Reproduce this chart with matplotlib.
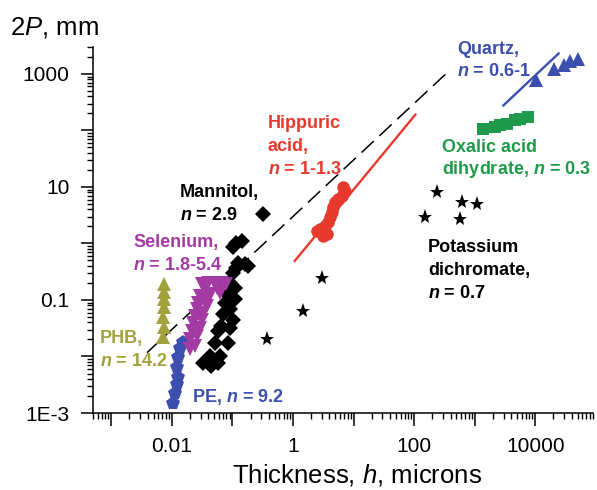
import matplotlib
matplotlib.use("Agg")
import matplotlib.pyplot as plt
import numpy as np
from matplotlib.ticker import FixedLocator, FixedFormatter, LogLocator, NullFormatter

plt.rcParams["font.family"] = ["Liberation Sans", "DejaVu Sans"]
plt.rcParams["mathtext.fontset"] = "custom"
plt.rcParams["mathtext.it"] = "Liberation Sans:italic:bold"
plt.rcParams["mathtext.rm"] = "Liberation Sans:bold"
plt.rcParams["mathtext.sf"] = "Liberation Sans:italic"

# data (thickness h in microns, 2P in mm)
mannitol_h = [0.323, 0.117, 0.142, 0.103, 0.161, 0.182, 0.125, 0.117, 0.103, 0.091, 0.080, 0.110,
              0.075, 0.110, 0.091, 0.070, 0.103, 0.066, 0.091, 0.058, 0.051, 0.085, 0.042, 0.033,
              0.045, 0.058, 0.062]
mannitol_p = [3.3, 1.04, 1.11, 0.85, 0.43, 0.40, 0.46, 0.375, 0.305, 0.203, 0.135, 0.165,
              0.0895, 0.103, 0.068, 0.0555, 0.045, 0.0344, 0.0322, 0.028, 0.0175, 0.0175, 0.0101,
              0.0077, 0.0067, 0.0077, 0.0101]

selenium_h = [0.031, 0.040, 0.051, 0.066, 0.080, 0.035, 0.055, 0.029, 0.042, 0.062, 0.027, 0.040,
              0.0256, 0.0375, 0.024, 0.033, 0.0225, 0.031, 0.0212, 0.029, 0.0199, 0.0256, 0.0199, 0.024]
selenium_p = [0.189, 0.203, 0.203, 0.203, 0.189, 0.154, 0.165, 0.117, 0.126, 0.135, 0.0895, 0.103,
              0.068, 0.078, 0.0518, 0.0594, 0.0395, 0.045, 0.028, 0.032, 0.020, 0.0229, 0.0133, 0.0152]

pe_h = [0.0152, 0.0136, 0.0126, 0.0121, 0.0126, 0.0121, 0.0112, 0.0104]
pe_p = [0.0177, 0.0144, 0.0096, 0.0066, 0.0044, 0.0032, 0.0023, 0.0015]

phb_h = [0.0074, 0.0074, 0.0074, 0.0074, 0.0072, 0.0074, 0.0072]
phb_p = [0.189, 0.136, 0.103, 0.074, 0.049, 0.0326, 0.0217]

hippuric_h = [6.78, 7.24, 6.38, 5.61, 4.94, 4.63, 4.36, 4.09, 3.83, 3.38, 2.79, 2.46, 3.61, 3.17]
hippuric_p = [9.9, 8.6, 7.0, 6.1, 5.35, 4.36, 3.55, 2.9, 2.36, 2.06, 1.79, 1.67, 1.46, 1.36]
hippuric_fit_h = [1.07, 105]
hippuric_fit_p = [0.49, 190]

dichromate_h = [237, 614, 1087, 152, 576, 2.98, 1.48, 0.367]
dichromate_p = [8.05, 5.35, 4.99, 2.9, 2.7, 0.249, 0.0635, 0.020]

oxalic_h = [1397, 2183, 2640, 3400, 4670, 5650, 7750]
oxalic_p = [107, 115, 123, 131, 151, 161, 173]

quartz_h = [10400, 20600, 29400, 37900, 50400]
quartz_p = [773, 1247, 1470, 1695, 1876]
quartz_fit_h = [2990, 24300]
quartz_fit_p = [278, 2300]

guide_h = [0.0039, 400]
guide_p = [0.0117, 1200]

xtick_vals = [0.001, 0.01, 0.1, 1, 10, 100, 1000, 10000]
xtick_labels = ["", "0.01", "", "1", "", "100", "", "10000"]
ytick_vals = [0.001, 0.01, 0.1, 1, 10, 100, 1000]
ytick_labels = ["1E-3", "", "0.1", "", "10", "", "1000"]

RED = "#e63a2e"
MAGENTA = "#a43aa4"
BLUE = "#3c4fae"
GREEN = "#1f9a4a"
OLIVE = "#a2a23c"

W, H = 597, 490
fig = plt.figure(figsize=(W / 100, H / 100), dpi=100)
ax = fig.add_axes([93 / W, 1 - 413 / H, 500 / W, 366 / H])

ax.set_xscale("log")
ax.set_yscale("log")

ax.plot(guide_h, guide_p, color="black", lw=1.1, dashes=(11, 5), zorder=2)
ax.plot(hippuric_fit_h, hippuric_fit_p, color=RED, lw=1.7, zorder=2)
ax.plot(quartz_fit_h, quartz_fit_p, color=BLUE, lw=1.7, zorder=2)

ax.plot(mannitol_h, mannitol_p, "D", color="black", ms=8.5, mew=0, zorder=3)
ax.plot(selenium_h, selenium_p, "v", color=MAGENTA, ms=10, mew=0, zorder=4)
ax.plot(pe_h, pe_p, "p", color=BLUE, ms=10, mew=0, zorder=3)
ax.plot(phb_h, phb_p, "^", color=OLIVE, ms=10, mew=0, zorder=3)
ax.plot(hippuric_h, hippuric_p, "o", color=RED, ms=9, mew=0, zorder=3)
ax.plot(dichromate_h, dichromate_p, "*", color="black", ms=11, mew=0, zorder=3)
ax.plot(oxalic_h, oxalic_p, "s", color=GREEN, ms=8.5, mew=0, zorder=3)
ax.plot(quartz_h, quartz_p, "^", color=BLUE, ms=10, mew=0, zorder=3)

ax.set_xlim(5e-4, 9e4)
ax.set_ylim(1e-3, 3000)

ax.spines["top"].set_visible(False)
ax.spines["right"].set_visible(False)
for s in ("left", "bottom"):
    ax.spines[s].set_linewidth(1.1)

ax.xaxis.set_major_locator(FixedLocator(xtick_vals))
ax.xaxis.set_major_formatter(FixedFormatter(xtick_labels))
ax.yaxis.set_major_locator(FixedLocator(ytick_vals))
ax.yaxis.set_major_formatter(FixedFormatter(ytick_labels))
ax.xaxis.set_minor_locator(LogLocator(base=10, subs=np.arange(2, 10), numticks=20))
ax.yaxis.set_minor_locator(LogLocator(base=10, subs=np.arange(2, 10), numticks=20))
ax.xaxis.set_minor_formatter(NullFormatter())
ax.yaxis.set_minor_formatter(NullFormatter())
ax.tick_params(which="major", direction="out", length=9, width=1.1, labelsize=15, pad=8)
ax.tick_params(which="minor", direction="out", length=4.5, width=1.0)

ax.set_xlabel("Thickness, $\\mathsf{h}$, microns", fontsize=18.5)
ax.xaxis.set_label_coords((357 - 93) / 500, (413 - 462) / 366)
ax.set_ylabel("2$\\mathsf{P}$, mm", fontsize=18.5, rotation=0, ha="left", va="center")
ax.yaxis.set_label_coords((10 - 93) / 500, (413 - 27) / 366)


def note(x, y, s, color):
    fig.text(x / W, 1 - y / H, s, color=color, fontsize=13, fontweight="bold",
             ha="left", va="center")


note(268, 123, "Hippuric", RED)
note(268, 146, "acid,", RED)
note(268, 169, "$n$ = 1-1.3", RED)
note(180, 192, "Mannitol,", "black")
note(180, 215, "$n$ = 2.9", "black")
note(133, 243, "Selenium,", MAGENTA)
note(133, 265, "$n$ = 1.8-5.4", MAGENTA)
note(100, 338, "PHB,", OLIVE)
note(100, 362, "$n$ = 14.2", OLIVE)
note(192, 397, "PE, $n$ = 9.2", BLUE)
note(457, 50, "Quartz,", BLUE)
note(457, 72, "$n$ = 0.6-1", BLUE)
note(442, 147, "Oxalic acid", GREEN)
note(442, 170, "dihydrate, $n$ = 0.3", GREEN)
note(428, 247, "Potassium", "black")
note(428, 270, "dichromate,", "black")
note(428, 293, "$n$ = 0.7", "black")

fig.savefig("out.png", dpi=100)
